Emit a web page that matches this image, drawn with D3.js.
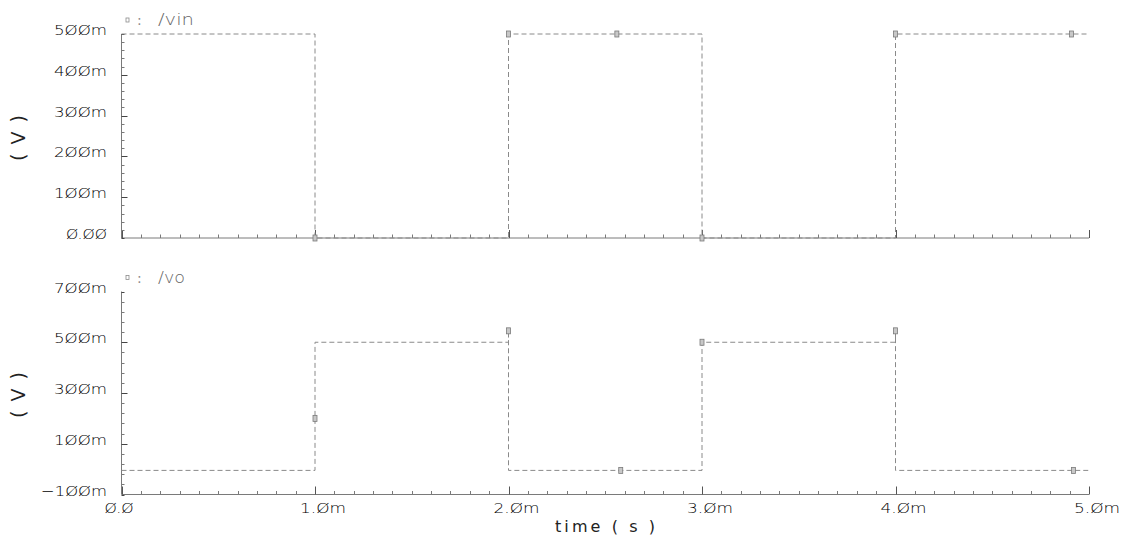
<!DOCTYPE html>
<html>
<head>
<meta charset="utf-8">
<script src="https://cdn.jsdelivr.net/npm/d3@7"></script>
<style>
  body { margin: 0; background: #fff; }
  svg { display: block; }
  text { font-family: "DejaVu Sans", sans-serif; }
</style>
</head>
<body>
<svg id="chart" width="1130" height="542"></svg>
<script>
// time in ms, voltages in mV
var vinT = [0, 1, 1, 2, 2, 3, 3, 4, 4, 5];
var vinV = [500, 500, 0, 0, 500, 500, 0, 0, 500, 500];
var voT = [0, 1, 1, 2, 2, 2, 3, 3, 4, 4, 4, 5];
var voV = [-5, -5, 500, 500, 545, -5, -5, 500, 500, 545, -5, -5];

var vinMarkT = [1, 2, 2.56, 3, 4, 4.91];
var vinMarkV = [0, 500, 500, 0, 500, 500];
var voMarkT = [1, 2, 2.58, 3, 4, 4.92];
var voMarkV = [200, 545, -5, 500, 545, -5];

var xTicks = [0, 1, 2, 3, 4, 5];
var xTickLabels = ["0.0", "1.0m", "2.0m", "3.0m", "4.0m", "5.0m"];
var vinTicks = [0, 100, 200, 300, 400, 500];
var vinTickLabels = ["0.00", "100m", "200m", "300m", "400m", "500m"];
var voTicks = [-100, 100, 300, 500, 700];
var voTickLabels = ["\u2212100m", "100m", "300m", "500m", "700m"];

var axisCol = "#7a7a7a", waveCol = "#8a8a8a", legCol = "#8c8c8c", txtCol = "#000";

var svg = d3.select("#chart");
var x = d3.scaleLinear().domain([0, 5]).range([121.5, 1089]);

// slashed zero look of the original plot font
function slash(s) { return s.replace(/0/g, "\u00d8"); }
function textW(s) {
  var w = 0;
  for (var i = 0; i < s.length; i++) {
    var c = s[i];
    w += c == "m" ? 17 : c == "." ? 5 : c == "\u2212" ? 13 : 12;
  }
  return w;
}

function panel(cfg) {
  var y = d3.scaleLinear().domain(cfg.dom).range([cfg.y1, cfg.y0]);
  var g = svg.append("g");

  // x axis line + ticks
  g.append("line").attr("x1", x(0)).attr("x2", x(5))
    .attr("y1", cfg.y1).attr("y2", cfg.y1).attr("stroke", axisCol);
  g.selectAll(".xmin").data(d3.range(0, 51)).enter().append("line")
    .attr("x1", function(d) { return Math.round(x(d / 10)) + 0.5; })
    .attr("x2", function(d) { return Math.round(x(d / 10)) + 0.5; })
    .attr("y1", cfg.y1)
    .attr("y2", function(d) { return cfg.y1 - (d % 10 == 0 ? 8 : 3.5); })
    .attr("stroke", function(d) { return d % 10 == 0 ? "#555" : axisCol; });

  // y axis line + ticks
  g.append("line").attr("x1", x(0)).attr("x2", x(0))
    .attr("y1", y(cfg.dom[0])).attr("y2", y(cfg.dom[1])).attr("stroke", axisCol);
  g.selectAll(".ymin").data(d3.range(cfg.dom[0], cfg.dom[1] + 1, cfg.minor)).enter().append("line")
    .attr("x1", x(0))
    .attr("x2", function(d) { return x(0) + (cfg.ticks.indexOf(d) >= 0 && d != cfg.dom[0] && d != cfg.dom[1] ? 6 : 3); })
    .attr("y1", function(d) { return Math.round(y(d)) + 0.5; })
    .attr("y2", function(d) { return Math.round(y(d)) + 0.5; })
    .attr("stroke", function(d) { return cfg.ticks.indexOf(d) >= 0 ? "#444" : axisCol; });

  // y tick labels
  g.selectAll(".ylab").data(cfg.ticks).enter().append("text")
    .attr("x", 107).attr("y", function(d) { return y(d) + 1; })
    .attr("text-anchor", "end").attr("font-size", 14).attr("font-weight", 200).attr("fill", txtCol)
    .attr("textLength", function(d, i) { return textW(cfg.labels[i]); })
    .attr("lengthAdjust", "spacingAndGlyphs")
    .text(function(d, i) { return slash(cfg.labels[i]); });

  // unit label
  g.append("text")
    .attr("transform", "translate(25," + ((cfg.y0 + cfg.y1) / 2 + 2) + ") rotate(-90)")
    .attr("text-anchor", "middle").attr("font-size", 19).attr("fill", "#222")
    .attr("textLength", 46).attr("lengthAdjust", "spacing")
    .text("( V )");

  // waveform
  var pts = cfg.t.map(function(t, i) { return [x(t), y(cfg.v[i])]; });
  g.append("path").attr("d", d3.line()(pts))
    .attr("fill", "none").attr("stroke", waveCol).attr("stroke-width", 1)
    .attr("stroke-dasharray", "5,3");

  // markers
  g.selectAll(".mk").data(cfg.mt).enter().append("rect")
    .attr("x", function(d) { return x(d) - 2; })
    .attr("y", function(d, i) { return y(cfg.mv[i]) - 3; })
    .attr("width", 4).attr("height", 6)
    .attr("fill", "#c8c8c8").attr("stroke", "#7a7a7a").attr("stroke-width", 0.8);

  // legend
  g.append("rect").attr("x", 126).attr("y", cfg.y0 - 16).attr("width", 3).attr("height", 4)
    .attr("fill", "none").attr("stroke", legCol).attr("stroke-width", 0.8);
  g.append("text").attr("x", 137).attr("y", cfg.y0 - 9)
    .attr("font-size", 14).attr("fill", legCol).text(":");
  g.append("text").attr("x", 158).attr("y", cfg.y0 - 9)
    .attr("font-size", 15).attr("font-weight", 200).attr("fill", "#666")
    .attr("textLength", cfg.name.length * 9).attr("lengthAdjust", "spacingAndGlyphs")
    .text(cfg.name);
  return g;
}

panel({ dom: [0, 500], y0: 34, y1: 238, minor: 20, ticks: vinTicks, labels: vinTickLabels,
  t: vinT, v: vinV, mt: vinMarkT, mv: vinMarkV, name: "/vin" });
panel({ dom: [-100, 700], y0: 291.5, y1: 494.5, minor: 40, ticks: voTicks, labels: voTickLabels,
  t: voT, v: voV, mt: voMarkT, mv: voMarkV, name: "/vo" });

// x tick labels (bottom panel only): numeric part centred on the tick
svg.selectAll(".xlab").data(xTicks).enter().append("text")
  .attr("x", function(d) { return x(d) - (d == 0 ? 17 : 15); })
  .attr("y", 513).attr("font-size", 14).attr("font-weight", 200).attr("fill", txtCol)
  .attr("textLength", function(d, i) { return textW(xTickLabels[i]); })
  .attr("lengthAdjust", "spacingAndGlyphs")
  .text(function(d, i) { return slash(xTickLabels[i]); });

svg.append("text").attr("x", 605).attr("y", 532).attr("text-anchor", "middle")
  .attr("font-size", 16).attr("fill", "#222")
  .attr("textLength", 100).attr("lengthAdjust", "spacing")
  .text("time ( s )");
</script>
</body>
</html>
